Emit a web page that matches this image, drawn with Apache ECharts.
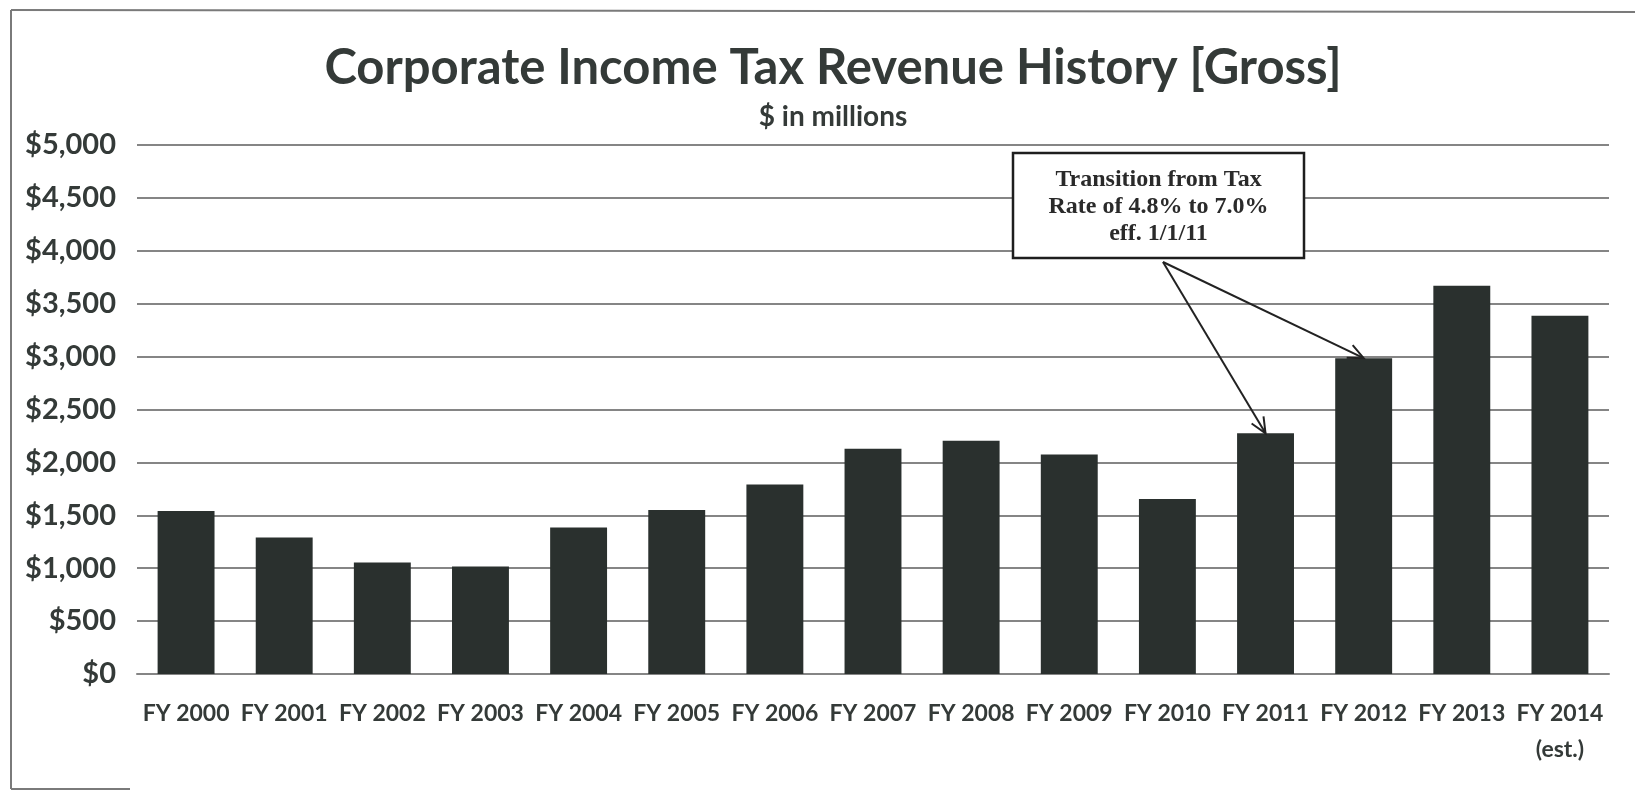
<!DOCTYPE html>
<html>
<head>
<meta charset="utf-8">
<script src="https://cdn.jsdelivr.net/npm/echarts@6/dist/echarts.min.js"></script>
<style>
  html, body { margin: 0; padding: 0; background: #ffffff; }
  #chart { width: 1635px; height: 791px; }
</style>
</head>
<body>
<div id="chart"></div>
<script>
// Fiscal years shown along the bottom axis
const categories = ['FY 2000', 'FY 2001', 'FY 2002', 'FY 2003', 'FY 2004', 'FY 2005', 'FY 2006',
  'FY 2007', 'FY 2008', 'FY 2009', 'FY 2010', 'FY 2011', 'FY 2012', 'FY 2013', 'FY 2014\n(est.)'];
// Gross corporate income tax revenue, $ millions
const revenue = [1540, 1290, 1055, 1015, 1385, 1550, 1790, 2130, 2205, 2075, 1655, 2275, 2985, 3670, 3385];
// Value axis range and step
const yMin = 0, yMax = 5000, yStep = 500;
// Callout text and the years it points at
const calloutLines = ['Transition from Tax', 'Rate of 4.8% to 7.0%', 'eff. 1/1/11'];
const calloutTargets = ['FY 2011', 'FY 2012'];

const ink = '#343a38';
const barColor = '#2a302e';
const sans = 'Lato, "Open Sans", sans-serif';

const chart = echarts.init(document.getElementById('chart'), null, { renderer: 'canvas' });

const option = {
  backgroundColor: '#ffffff',
  animation: false,
  title: [
    {
      text: 'Corporate Income Tax Revenue History [Gross]',
      left: 828, top: 39, textAlign: 'center',
      textStyle: { fontFamily: sans, fontWeight: 'bold', fontSize: 49, color: ink }
    },
    {
      text: '$ in millions',
      left: 828, top: 98, textAlign: 'center',
      textStyle: { fontFamily: sans, fontWeight: 'bold', fontSize: 28, color: ink }
    }
  ],
  grid: { left: 137, right: 26, top: 145, bottom: 117, containLabel: false },
  xAxis: {
    type: 'category',
    data: categories,
    axisTick: { show: false },
    axisLine: { show: true, lineStyle: { color: '#858585', width: 2 } },
    axisLabel: {
      interval: 0, margin: 22,
      fontFamily: sans, fontWeight: 'bold', fontSize: 23, color: ink,
      lineHeight: 36
    }
  },
  yAxis: {
    type: 'value',
    min: yMin, max: yMax, interval: yStep,
    axisLine: { show: false },
    axisTick: { show: false },
    splitLine: { lineStyle: { color: '#858585', width: 2 } },
    axisLabel: {
      margin: 21,
      fontFamily: sans, fontWeight: 'bold', fontSize: 29, color: ink,
      formatter: v => '$' + v.toLocaleString('en-US')
    }
  },
  series: [{
    type: 'bar',
    data: revenue,
    barWidth: '58%',
    itemStyle: { color: barColor },
    z: 3
  }]
};
chart.setOption(option);

// Callout box with arrows to the bars of the rate-change years
function drawCallout() {
  const box = { x: 1013, y: 153, w: 291, h: 105 };
  const origin = [1163, 262];
  const elements = [];

  // Page frame
  const frame = { color: '#7a7a7a', width: 2 };
  elements.push({ type: 'line', shape: { x1: 11, y1: 10, x2: 1635, y2: 12 }, style: { stroke: frame.color, lineWidth: frame.width } });
  elements.push({ type: 'line', shape: { x1: 11, y1: 10, x2: 11, y2: 789 }, style: { stroke: frame.color, lineWidth: frame.width } });
  elements.push({ type: 'line', shape: { x1: 11, y1: 789, x2: 130, y2: 789 }, style: { stroke: frame.color, lineWidth: frame.width } });

  elements.push({
    type: 'rect', z: 10,
    shape: { x: box.x, y: box.y, width: box.w, height: box.h },
    style: { fill: '#ffffff', stroke: '#1e1e1e', lineWidth: 2.5 }
  });
  elements.push({
    type: 'text', z: 11,
    x: box.x + box.w / 2, y: box.y + box.h / 2 + 1,
    style: {
      text: calloutLines.join('\n'),
      fontFamily: '"Liberation Serif", "Times New Roman", serif',
      fontWeight: 'bold', fontSize: 24, lineHeight: 27,
      fill: '#2a2a2a', align: 'center', verticalAlign: 'middle'
    }
  });

  calloutTargets.forEach(name => {
    const idx = categories.indexOf(name);
    const tip = chart.convertToPixel({ seriesIndex: 0 }, [idx, revenue[idx]]);
    const dx = tip[0] - origin[0], dy = tip[1] - origin[1];
    const ang = Math.atan2(dy, dx);
    const len = 17, spread = 0.42;
    const a1 = [tip[0] - len * Math.cos(ang - spread), tip[1] - len * Math.sin(ang - spread)];
    const a2 = [tip[0] - len * Math.cos(ang + spread), tip[1] - len * Math.sin(ang + spread)];
    elements.push({
      type: 'line', z: 10,
      shape: { x1: origin[0], y1: origin[1], x2: tip[0], y2: tip[1] },
      style: { stroke: '#222222', lineWidth: 2 }
    });
    elements.push({
      type: 'polyline', z: 10,
      shape: { points: [a1, tip, a2] },
      style: { stroke: '#222222', lineWidth: 2, fill: null }
    });
  });

  chart.setOption({ graphic: { elements } });
}
drawCallout();
</script>
</body>
</html>
